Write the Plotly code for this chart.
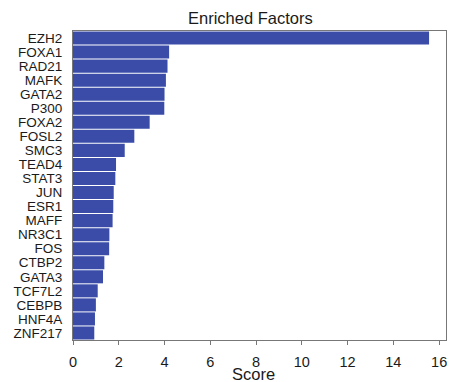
import plotly.graph_objects as go

factors = ["EZH2", "FOXA1", "RAD21", "MAFK", "GATA2", "P300", "FOXA2", "FOSL2",
           "SMC3", "TEAD4", "STAT3", "JUN", "ESR1", "MAFF", "NR3C1", "FOS",
           "CTBP2", "GATA3", "TCF7L2", "CEBPB", "HNF4A", "ZNF217"]
scores = [15.56, 4.20, 4.13, 4.06, 4.00, 3.99, 3.35, 2.68,
          2.26, 1.88, 1.85, 1.78, 1.76, 1.73, 1.59, 1.58,
          1.37, 1.31, 1.08, 1.00, 0.96, 0.93]
x_ticks = [0, 2, 4, 6, 8, 10, 12, 14, 16]

W, H = 452, 382
L, R, T, B = 73, 6, 31, 42
pw, ph = W - L - R, H - T - B

fig = go.Figure(go.Bar(
    x=scores, y=factors, orientation="h",
    marker=dict(color="#3a4ca8", line=dict(width=0)),
))

fig.update_layout(
    width=W, height=H,
    margin=dict(l=L, r=R, t=T, b=B, pad=0),
    paper_bgcolor="white", plot_bgcolor="white",
    font=dict(family="Liberation Sans, Arial, sans-serif", color="#1a1a1a"),
    bargap=0.07,
    showlegend=False,
    annotations=[
        dict(text="Enriched Factors", xref="paper", yref="paper",
             x=(250 - L) / pw, y=(T - 18) / ph + 1.0, xanchor="center", yanchor="middle",
             showarrow=False, font=dict(size=16.5, color="#1a1a1a")),
        dict(text="Score", xref="paper", yref="paper",
             x=(253 - L) / pw, y=-(374 - (T + ph)) / ph, xanchor="center", yanchor="middle",
             showarrow=False, font=dict(size=16.5, color="#1a1a1a")),
    ],
)

fig.update_xaxes(
    range=[0, 16.3], tickvals=x_ticks, ticktext=[str(v) for v in x_ticks],
    ticks="outside", ticklen=4, tickcolor="#777", tickwidth=1,
    tickfont=dict(size=14.5), ticklabelstandoff=5,
    showline=True, linecolor="#777", linewidth=1, mirror=True,
    showgrid=False, zeroline=False,
)
fig.update_yaxes(
    categoryorder="array", categoryarray=factors,
    tickmode="array", tickvals=factors, ticktext=factors,
    range=[len(factors) - 0.5, -0.5],
    ticks="", tickfont=dict(size=13.5), ticklabelstandoff=7,
    showline=True, linecolor="#777", linewidth=1, mirror=True,
    showgrid=False, zeroline=False,
)

fig.write_html("out.html")
